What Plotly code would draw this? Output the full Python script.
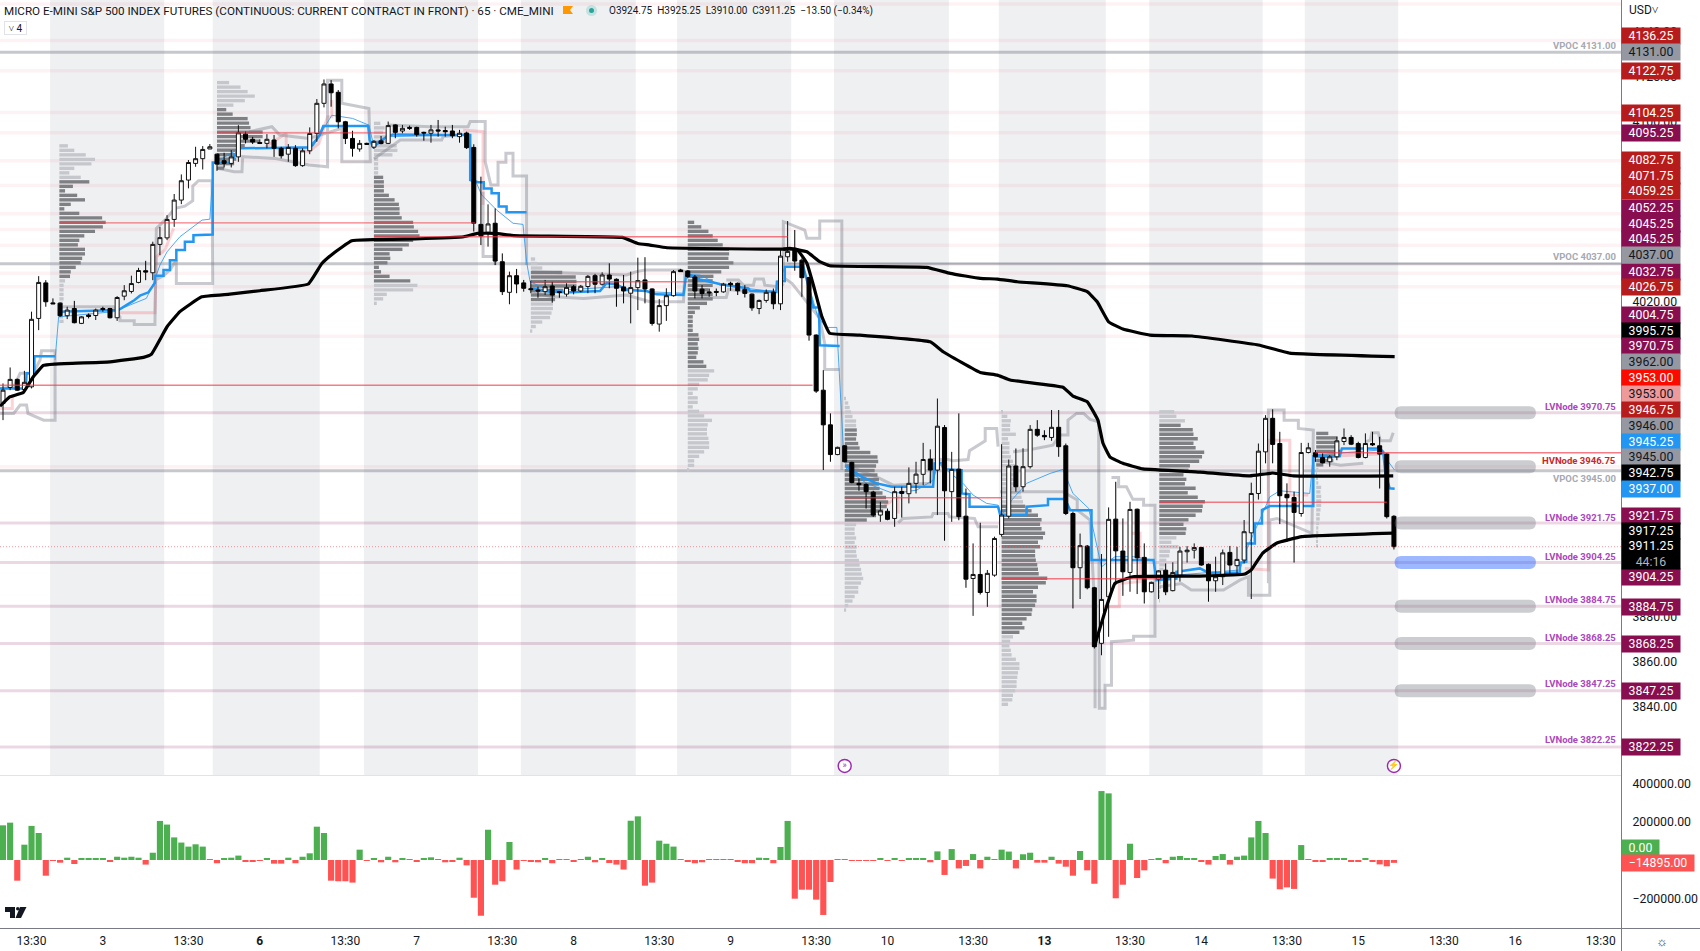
import plotly.graph_objects as go

# ---------- candles (bar index 0..195, prices) ----------
opens = [3974.9,3982.0,3985.6,3981.1,3982.3,4012.7,4028.5,4019.6,4019.5,4013.9,
4017.1,4010.5,4014.2,4014.0,4017.1,4017.1,4013.0,4022.6,4024.7,4028.7,
4033.9,4033.0,4045.6,4048.5,4056.7,4065.3,4074.2,4081.6,4083.7,4088.0,
4085.7,4082.8,4081.6,4084.5,4094.6,4092.3,4090.9,4090.5,4092.0,4088.3,
4085.7,4088.3,4080.6,4087.2,4094.9,4108.3,4116.9,4113.2,4100.1,4092.7,
4088.0,4090.5,4088.8,4091.6,4090.5,4098.7,4096.0,4097.6,4097.6,4095.4,
4095.0,4096.5,4096.2,4096.0,4093.5,4095.1,4088.7,4054.5,4051.0,4055.0,
4037.9,4024.3,4031.7,4028.5,4025.9,4025.3,4024.6,4027.1,4024.6,4023.5,
4026.8,4024.9,4026.9,4031.7,4027.9,4032.0,4030.1,4026.7,4023.9,4026.4,
4029.8,4025.8,4010.2,4018.4,4022.8,4034.2,4033.8,4031.1,4025.7,4024.5,
4024.7,4024.5,4028.3,4028.3,4025.6,4023.5,4017.1,4020.7,4024.4,4019.2,
4040.1,4043.1,4038.6,4030.9,4005.3,3980.8,3965.4,3952.2,3956.1,3948.7,
3939.4,3938.9,3935.5,3925.3,3927.0,3923.8,3935.8,3934.8,3939.4,3943.4,
3950.2,3945.3,3964.2,3935.7,3945.7,3924.8,3897.1,3898.9,3890.9,3898.6,
3916.7,3924.8,3947.1,3937.9,3946.8,3963.4,3960.7,3959.8,3964.3,3956.1,
3926.0,3901.9,3911.5,3893.0,3868.3,3889.0,3923.5,3909.3,3899.8,3927.9,
3906.5,3891.2,3896.8,3900.8,3891.7,3898.6,3909.0,3909.7,3910.9,3903.4,
3896.1,3897.9,3908.7,3902.8,3905.3,3917.4,3934.9,3953.4,3968.3,3957.1,
3934.5,3933.1,3926.0,3953.1,3953.0,3950.9,3949.0,3951.2,3958.0,3959.8,
3957.1,3950.9,3957.1,3956.1,3952.4,3924.75]
highs = [3983.8,3990.9,3986.0,3989.4,4015.7,4031.5,4029.7,4021.6,4019.8,4017.9,
4020.5,4013.7,4014.9,4017.1,4017.9,4017.4,4022.6,4027.5,4031.7,4035.2,
4038.3,4046.8,4053.4,4058.6,4068.0,4076.7,4083.1,4089.0,4089.3,4090.2,
4086.0,4086.3,4087.5,4098.6,4095.7,4093.4,4092.3,4094.6,4094.2,4089.0,
4090.2,4089.7,4088.3,4097.6,4110.2,4118.9,4118.6,4114.2,4100.5,4096.1,
4092.0,4090.8,4092.0,4093.8,4100.2,4099.0,4098.7,4098.4,4097.9,4095.7,
4098.7,4100.9,4097.9,4098.7,4096.5,4095.7,4090.1,4075.7,4063.4,4061.6,
4041.6,4033.5,4034.7,4029.8,4029.5,4026.8,4029.8,4029.0,4024.9,4028.3,
4027.6,4027.6,4032.0,4032.5,4033.2,4037.2,4030.5,4032.0,4033.5,4039.7,
4039.9,4026.1,4021.3,4026.1,4034.2,4034.7,4034.2,4032.0,4027.5,4026.0,
4026.0,4028.5,4029.0,4028.7,4027.5,4023.8,4021.1,4025.6,4026.0,4043.1,
4056.0,4052.0,4039.4,4031.2,4005.6,3989.7,3970.5,3955.7,3956.4,3949.0,
3941.6,3939.4,3936.1,3931.2,3928.2,3937.9,3937.9,3946.5,3949.0,3957.4,
3954.5,3977.1,3965.3,3953.4,3970.5,3937.1,3912.7,3921.9,3900.9,3915.7,
3956.8,3950.0,3954.9,3955.0,3965.3,3967.5,3963.0,3972.0,3972.0,3957.1,
3926.8,3917.1,3912.0,3893.4,3908.0,3928.7,3940.1,3923.8,3931.2,3928.2,
3912.7,3895.7,3900.8,3903.8,3904.3,3911.2,3911.5,3912.7,3911.2,3903.8,
3906.8,3910.0,3911.6,3911.2,3923.1,3939.7,3957.1,3969.7,3972.3,3962.3,
3939.4,3935.7,3957.4,3957.4,3954.2,3952.7,3952.0,3960.1,3963.8,3960.8,
3957.9,3961.6,3962.3,3960.1,3952.7,3925.25]
lows = [3967.5,3980.8,3980.5,3980.5,3981.6,4007.5,4017.9,4019.2,4013.4,4012.4,
4010.5,4010.2,4012.7,4012.0,4015.7,4012.7,4011.6,4020.8,4023.8,4028.3,
4029.7,4029.7,4040.8,4047.5,4053.4,4063.5,4070.5,4080.1,4078.9,4088.0,
4078.3,4079.8,4079.8,4082.3,4090.5,4090.2,4090.2,4088.3,4084.5,4083.8,
4082.3,4080.1,4080.1,4085.7,4091.2,4106.5,4106.8,4097.2,4090.2,4084.6,
4086.8,4089.8,4088.0,4090.1,4090.2,4092.8,4095.0,4096.5,4093.5,4091.7,
4090.8,4093.5,4093.5,4092.8,4090.8,4088.0,4051.3,4045.3,4044.6,4036.4,
4023.1,4019.0,4023.9,4024.6,4023.9,4021.9,4023.1,4019.7,4021.9,4022.4,
4023.4,4024.3,4023.9,4023.9,4027.3,4026.1,4017.9,4019.4,4010.5,4016.4,
4019.4,4009.5,4006.8,4011.6,4022.4,4033.5,4030.5,4021.6,4021.6,4022.3,
4022.6,4024.1,4025.0,4023.1,4022.0,4016.1,4014.6,4019.7,4016.8,4016.4,
4037.9,4033.9,4022.3,4002.8,3979.6,3945.3,3949.0,3951.9,3948.7,3939.4,
3936.1,3928.2,3924.5,3922.3,3923.0,3920.1,3924.2,3930.5,3934.9,3938.6,
3939.4,3925.3,3913.9,3922.3,3923.0,3893.0,3880.5,3890.0,3884.5,3897.9,
3915.7,3923.8,3935.7,3935.7,3946.0,3960.1,3958.6,3958.3,3951.2,3925.3,
3883.8,3888.0,3892.3,3866.0,3863.0,3871.2,3894.2,3889.4,3891.2,3890.2,
3886.0,3890.9,3888.0,3889.7,3891.4,3895.7,3904.2,3906.0,3902.8,3886.8,
3891.2,3894.2,3898.6,3899.4,3903.8,3888.0,3932.2,3948.3,3948.3,3921.3,
3913.4,3904.2,3924.6,3952.7,3949.0,3948.3,3946.8,3949.7,3956.4,3956.4,
3950.5,3950.5,3956.0,3937.1,3923.8,3910.0]
closes = [3980.8,3985.6,3980.8,3984.3,4012.3,4028.7,4020.1,4019.2,4013.9,4016.4,
4010.8,4013.4,4013.6,4016.4,4016.7,4013.0,4022.0,4025.0,4028.2,4034.0,
4033.3,4045.6,4048.6,4056.7,4065.3,4073.9,4082.0,4083.7,4087.8,4089.0,
4081.3,4081.6,4084.5,4095.2,4092.3,4091.1,4090.5,4092.3,4088.3,4085.0,
4088.7,4080.6,4087.2,4094.9,4108.3,4116.9,4113.0,4100.1,4092.7,4088.3,
4090.5,4090.1,4091.4,4090.4,4098.4,4095.4,4097.2,4097.2,4094.5,4095.1,
4096.5,4096.0,4095.7,4093.9,4095.0,4088.6,4055.0,4049.3,4054.7,4038.2,
4024.6,4031.7,4028.0,4026.1,4025.5,4024.9,4026.8,4023.1,4024.2,4026.5,
4024.9,4027.0,4031.4,4027.9,4032.0,4030.2,4026.1,4024.9,4026.4,4029.5,
4025.8,4010.5,4018.4,4022.8,4033.5,4033.5,4031.3,4024.9,4023.8,4024.1,
4024.3,4027.9,4027.7,4025.0,4023.8,4017.4,4020.7,4024.3,4019.2,4040.4,
4042.5,4038.2,4030.8,4005.3,3980.4,3965.4,3952.2,3955.4,3949.0,3939.8,
3938.8,3935.7,3925.3,3927.2,3923.4,3935.7,3934.9,3939.4,3943.5,3950.0,
3945.3,3964.8,3936.1,3945.6,3924.6,3896.8,3898.9,3890.9,3899.4,3914.9,
3925.3,3947.1,3937.9,3946.8,3963.4,3960.8,3960.1,3964.3,3955.7,3926.0,
3901.9,3911.7,3893.0,3866.8,3887.8,3923.4,3909.4,3900.1,3927.8,3906.3,
3891.2,3895.4,3900.5,3891.2,3899.8,3909.3,3909.7,3910.9,3903.1,3896.1,
3897.9,3908.5,3903.1,3905.6,3917.9,3934.9,3953.7,3968.3,3956.7,3933.9,
3933.0,3926.5,3953.1,3955.2,3951.2,3948.5,3951.2,3958.3,3959.8,3956.8,
3950.9,3957.1,3956.5,3952.4,3924.6,3911.25]
assert len(opens) == len(highs) == len(lows) == len(closes) == 196, (len(opens), len(highs), len(lows), len(closes))

# ---------- delta histogram (thousands) ----------
delta_k = [181,195,-108,80,178,141,-82,-3,-14,12,
-21,7,7,7,7,-9,17,12,17,12,
-24,38,204,185,118,91,70,82,70,3,
-17,10,12,23,-7,-7,-5,9,-19,-19,
12,-17,17,35,174,141,-108,-111,-111,-118,
54,-3,7,-12,17,-12,7,3,-7,7,
14,3,-12,-7,12,-28,-197,-291,158,-129,
-111,94,-50,-3,-7,-12,9,-17,5,5,
-7,5,17,-12,9,-16,-24,-50,205,228,
-134,-118,101,85,70,2,-7,-17,-12,5,
5,5,5,-7,-17,-17,12,9,-17,68,
204,-202,-155,-155,-207,-287,-115,3,3,-3,
-3,-5,-3,7,-3,9,-5,9,7,9,
-12,45,-78,57,-44,-31,31,-44,17,3,
54,44,-44,30,38,-14,-14,17,-19,-35,
-82,47,-54,-124,360,348,-200,-129,85,-94,
-54,3,10,-17,17,21,10,7,-10,-24,
21,31,-24,17,23,118,204,141,-97,-153,
-143,-151,78,3,-7,-7,9,9,9,-7,
-7,9,-10,-23,-33,-14.895]
assert len(delta_k) == 196, len(delta_k)

# ---------- black anchored lines ----------
line_a_x = [-0.42,1,2.85,4.25,5.65,7.3,15,19.7,20.8,23,24.8,27.85,31.8,36,42.8,44.7,46.3,48.9,57.8,64.6,66.5,69,71.6,86.8,89,90.7,93.1,109.4,110.3,112.7,114.5,115.9,129.5,132.8,137,139.4,142.2,149.2,152,153.4,155,157,160.8,166.7,176,180.4,195.1]
line_a_y = [3973.7,3977.9,3979.8,3986.8,3991.8,3992.4,3993.4,3995.4,3996.8,4009,4015.7,4022.3,4023.5,4025,4028,4037.1,4041.6,4047.2,4048,4049,4050.5,4050.5,4049.5,4048.7,4046,4045.3,4044.1,4043.5,4043.8,4042.3,4037.9,4036.1,4035.4,4032.7,4030.5,4030.2,4029,4027.2,4024.6,4020.1,4011.2,4008,4005.3,4004.9,4000.9,3997.3,3995.75]
line_b_x = [109.4,111.3,112.7,113.8,114.8,115.9,120.1,130,131.8,137,139.4,141.2,148.6,150,152,153.5,154.2,155.2,157,159.8,167.8,174.8,178,180.9,194.9]
line_b_y = [4043.5,4043.4,4037.2,4025.3,4013.5,4006.1,4005.3,4002.3,3997.9,3988.7,3987.5,3985.3,3982.1,3978.2,3975.7,3967.5,3957.3,3951.1,3948.3,3945.8,3944.4,3942.7,3944,3942.7,3942.75]
line_c_x = [153,154.7,155.9,158.4,167.8,174.1,175,176.6,178.6,182.1,194.9]
line_c_y = [3866.8,3884.6,3895,3897.9,3898.2,3899.1,3900.9,3908.4,3912.9,3915.7,3917.25]

# ---------- blue stepped value line ----------
blue_x = [-0.42,3.2,3.3,4.4,4.4,7.3,None,
7.8,16.2,17.3,18.4,19.2,20.4,21.3,21.3,22.5,22.5,23.4,23.4,24.3,24.3,25.5,25.5,26.7,26.7,29.4,29.4,32,32.5,33.2,42.8,43.4,44.4,44.9,51.2,51.4,51.9,53.8,54.7,61.5,64.8,65.5,65.5,66.6,67.4,67.4,68.5,68.5,69.5,69.5,70.6,70.6,73.4,None,
73.9,76.7,79.5,83.7,84.6,86,87.4,90.2,91.6,95.4,95.8,97.7,100.5,104.5,104.7,108.4,108.5,109.6,109.6,112.2,112.7,113.6,114.4,114.5,117.3,None,
118.3,120.4,122.5,124.6,130.4,130.6,131.6,131.8,134.4,134.4,135.5,135.5,139.5,139.8,143.5,143.5,146.5,146.5,148.9,149.6,152.6,152.6,161.3,161.7,164.5,164.5,167.8,169,173.4,173.4,174.3,174.3,175.5,175.5,176.5,176.5,177.6,183.7,183.7,187.4,187.7,193,193.5,193.8,194.4,195.1]
blue_y = [3981.6,3981.6,3988.3,3988.3,3995.9,3995.9,None,
4015.7,4016.4,4018.6,4020.8,4022.8,4024.3,4028.5,4031.7,4031.7,4034.2,4034.2,4038.6,4038.6,4043.1,4043.1,4046.8,4046.8,4049.7,4050,4082,4082,4085.3,4088.3,4088.7,4089.7,4094.2,4098.2,4098.2,4092,4089,4093.5,4094.5,4094.2,4094.2,4094.2,4074.2,4073.2,4073.2,4070.5,4070.5,4068.3,4068.3,4062.4,4062.4,4059.9,4059.9,None,
4026.1,4024.6,4024.3,4024.9,4028.3,4027.9,4025.3,4024.9,4023.4,4023.1,4032.7,4030,4028,4026,4025,4024.5,4029,4029.3,4035.7,4035.7,4029.7,4017.6,4017.6,4000.8,4000.5,None,
3946.8,3942.3,3939.4,3937.9,3937.9,3948.3,3948.5,3945.7,3945.3,3934.9,3934.6,3929,3929,3925.3,3925.3,3929,3929.7,3932.4,3932.4,3927.5,3927.5,3905.3,3905.3,3896.4,3897.1,3900.1,3901.6,3899.7,3899.8,3904.1,3904.6,3912.7,3912.7,3921.6,3921.6,3927.5,3929.3,3929.3,3951.5,3951.5,3954.9,3954.9,3953.4,3943.8,3937.2,3937.0]
# thin blue VWAP
thin_x = [7.3,7.8,15.5,18.3,20.1,21.1,22,23,24.8,27.9,29,29.5,33.2,42.8,44.4,46.1,49,51.3,51.9,54,65,65.5,66.2,67.1,69.2,71.5,72.9,73.4,73.9,76.7,86,90.2,95.4,95.8,97.7,100.5,104.5,108.4,109.6,112.2,114.3,115.5,116.9,117.3,117.8,118.3,121.1,124.8,128.1,130.4,131.1,134.6,136,137.9,139.5,140,141.4,143.5,146.8,148.6,150,152.2,154,155.9,158.5,161.3,161.7,164.5,173.4,174.3,176.7,177.6,179,183.2,183.7,193,195.1]
thin_y = [3994.2,4013.4,4015.7,4019.4,4021.6,4028.3,4036.4,4042.3,4049,4056.4,4056.8,4081.6,4088.3,4089,4094.2,4103,4101.6,4098.6,4090.5,4093.5,4094.2,4091.3,4074.2,4067.6,4060.9,4055,4054.5,4037.9,4029,4024.9,4026.8,4024.6,4023.9,4032.3,4032,4027.5,4026,4024.5,4035.7,4035.7,4012.7,4008.7,4008.7,3982.3,3955.7,3945.3,3939.4,3934.9,3936.4,3940.8,3948.3,3939.4,3934.2,3930.5,3929.7,3925.3,3931.9,3939.4,3943.8,3945.6,3934.9,3928.3,3902.3,3906.8,3906.8,3905.3,3896.4,3898.6,3900.9,3909.7,3927.5,3933.4,3936.1,3934.9,3952,3954.2,3945.25]

# ---------- grey stepped band lines ----------
grey_x = [-0.4,1.5,2.4,3.3,3.5,5.7,7.3,7.3,5.4,5.2,4.25,2.4,1.5,-0.4,None,
7.9,7.9,15.5,16.4,16.4,18.4,18.4,21.3,21.5,22.7,24.1,25.5,26.6,26.6,27.4,29.3,29.4,24.3,24.3,23.4,22.5,21.3,None,
30.1,32.4,33.5,33.6,38.2,42.9,45.5,45.5,47.5,47.5,51.3,51.5,47.5,47.5,42.9,38.8,37.7,34.5,None,
52,54.7,55.7,61.5,61.7,64.8,None,
54,59.9,65.2,65.5,67.6,67.6,68.4,69.4,69.4,70.5,70.5,71.5,71.5,73.4,73.4,None,
67.3,67.3,69,69,None,
74.1,87.4,88.8,90,91.4,94.9,95.6,95.4,90.7,None,
74.1,76.7,81.4,87.4,90.7,None,
97.2,101.4,101.7,104.7,108.7,109.4,None,
101.4,103.1,103.8,105.2,105.4,106.6,106.8,108.7,109.4,109.4,112.4,112.7,114.5,114.5,117.6,117.6,None,
109.6,110.6,114.5,115.2,115.2,117.3,None,
125.5,126.2,130.2,130.4,132.5,132.7,136.2,136.7,139.5,None,
118.3,122.9,124.8,130,130.4,132.5,133.2,135.3,135.5,137.7,137.7,139.3,139.5,None,
141.6,143.7,147.2,148.2,149.3,149.3,150.5,151.5,152.4,153.6,153.7,154.5,154.5,155.4,155.4,158.5,158.5,161.5,161.5,159.9,159.9,158.4,157.5,156.4,156.4,155.4,None,
139.8,148.6,150.6,150.6,152.4,153.1,153.1,None,
162.2,165.2,166.6,171.1,173.4,174.6,174.6,177.6,177.6,178.6,183.5,183.7,181.6,181.6,179.6,179.6,177.4,177.4,None,
183.7,187.5,190.7,None,
191,191.7,191.9,192.8,193.1,194.5,194.9]
grey_y = [3970.5,3970.5,3974.2,3974.2,3970.5,3967.5,3967.5,3998.3,3998.3,3994.2,3988.3,3988.3,3982.3,3981.6,None,
4013.7,4017.9,4017.9,4013.4,4011.7,4011.7,4010,4010,4052.7,4056.4,4061.6,4062.6,4065,4071.5,4073.9,4073.9,4028.2,4028.2,4038.6,4034.2,4031.7,4029.7,None,
4079.4,4077.9,4077.9,4084.6,4083.8,4080.9,4080.1,4118.6,4118.6,4108.3,4106,4082.3,4082.3,4097.2,4092.7,4094.2,4097.9,4095.7,None,
4083.6,4089.8,4092,4092,4093.5,4094.5,None,
4098.7,4097.9,4097.9,4100.2,4100.2,4082.4,4072,4072,4082.1,4082.1,4086.1,4086.1,4076,4076,4036.4,None,
4069,4040.2,4040.2,4036.4,None,
4033.5,4032,4033.5,4034.2,4034.2,4034.2,4033.5,4020.1,4020.1,None,
4024.6,4022.4,4021.6,4023.1,4020.1,None,
4022,4022,4025.6,4024.6,4024.6,4028.3,None,
4029.8,4029.8,4027.5,4027.5,4030.2,4030.2,4027.5,4026.8,4031.2,4055.7,4052,4048.3,4048.3,4056,4056,3945.3,None,
4030.5,4028.3,4012.7,4001.6,3990,3990,None,
3921.9,3923.8,3924.5,3926,3926,3924.5,3923.8,3920.1,3920.1,None,
3947.5,3941.6,3938.6,3939.4,3950,3950,3949.4,3950,3953.9,3958.3,3963.8,3963.8,3955.7,None,
3953.4,3954.2,3956.4,3960.9,3960.9,3967.5,3970.5,3970.5,3967.8,3966.8,3839.4,3839.4,3849.7,3849.7,3869,3869.7,3871.5,3871.5,3929.7,3929.7,3932.3,3932.3,3937.9,3937.9,3942,3942,None,
3935.7,3935.7,3932,3927.5,3923.1,3881.6,3839.4,None,
3893.4,3894.9,3892,3892,3896.4,3897.9,3889.7,3889.7,3923.1,3923.8,3917.2,3963.1,3963.8,3967.5,3967.5,3972,3972,3895,None,
3949.7,3947.5,3948.3,None,
3957.9,3958.6,3961.9,3961.9,3958.3,3958.3,3961.9]

# ---------- pink stepped band lines ----------
pink_x = [-0.4,1.3,1.3,None,16,21.3,21.5,22.7,23.9,None,36.8,39.7,39.7,42.9,44.3,45.5,46.1,46.1,None,
64.5,67.3,67.3,None,123.6,125.5,125.5,None,153.8,156.5,156.5,159.4,159.4,158.2,None,
174.1,177.4,177.4,180.4,180.4,183,None,184.4,194.4]
pink_y = [3972.7,3972.7,3977.9,None,4015.2,4015.2,4040.1,4043.1,4052.7,None,4089,4094.9,4089,4086.8,4090.5,4102.3,4102.3,4109.8,None,
4096.5,4095.7,4063.1,None,3929.7,3933.1,3926,None,3884.6,3884.6,3894.9,3895.7,3917.2,3917.2,None,
3901.6,3900.9,3958.6,3958.6,3934.2,3934.2,None,3951.2,3952.7]

# ---------- session volume profiles: start bar, top price, row lengths in bars ----------
vp_s1 = [1.2,2.1,3.7,5,4.5,2.1,1.4,3,4.2,1.9,.8,2.5,3.6,1.6,.7,2.8,6,6.5,6.1,5,3.5,2.8,2.6,3.6,3.6,3.2,3,2.3,1.6,1.5,.8,.6,.6,.6,.6,.5,.5,.5,.5,.6]
vp_s2 = [1.7,3.3,4.3,5.3,3.9,2.3,1.3,2.2,4.3,4.5,4.7,6.4,6.4,5.9,3.9,3,2.7,2.7,2.4,1]
vp_s3 = [.9,1.5,1.3,1.8,2,3.2,3.3,2.6,.6,.6,.6,.6,1.3,1.4,1.4,1.4,2.1,2.9,3.5,3.6,3.6,3.9,5.5,5.6,6.2,6.4,5.5,4.9,4,2.2,2.3,1.9,.7,1,2.2,5.1,6.1,5.5,1.8,1.3,.4]
vp_s4 = [.6,.9,1.6,4.4,6.3,6.4,6.4,4.5,3.4,3.4,3.1,3.1,2.9,2.7,1.6,.7,.2]
vp_s5 = [.9,1.9,2.9,3.5,4.2,4.9,5.8,5.8,5.7,6.4,5.8,4.7,3.6,3.5,3.5,2.9,3.5,3.5,2.7,1.7,1,.7,.7,.7,.7,1.5,1.6,1.4,1.5,1.4,1.2,2.2,2.6,3.7,3,2.8,1.6,1.4,.7,1.4,1.4,.7,1.6,2.3,3.4,2.8,2.7,2.7,2.9,3,3,2.3,1.6,.9,.9,.2]
vp_s6 = [.1,.5,.7,.9,1.1,1.6,1.6,1.7,1.7,1.6,1.9,2.1,3.6,4.6,4.7,4.4,4.2,4.6,4.8,4.8,4.9,5.3,5.8,6.1,5.9,5.4,4.4,3.1,1.6,1.4,1.4,1.6,1.4,1.7,1.6,1.7,2,2.1,2.3,2.4,2.6,2.3,1.9,1.9,1.4,1.1,.5,.2]
vp_s7 = [.1,.8,1.3,1.2,1.2,2,.9,1.1,1.1,1.1,1.3,1.6,1.9,2,1.9,2,2.2,2.6,2.7,2.8,3,3.3,4.2,5.1,5.6,5.4,5.6,6.1,5.8,5.1,5.4,4.7,4.7,4.8,5,5.1,5.2,6.4,6.2,5.1,4.4,4.9,4.9,4.7,4.3,4.2,3.5,2.9,3.2,2.5,1.6,1.2,1.1,1.3,1.4,2,2.5,2.5,2.3,2.2,2.1,2.1,1.9,1.6,1.5,.9]
vp_s8 = [2.1,2.4,3.6,3,4.7,4.8,5.4,4.8,5.1,6.3,6,5.6,4.3,4.1,3.4,3.8,3.6,5.1,4,5.4,6.4,6.1,6,5.1,4.1,3.4,3.8,3.7,2.4,1.7,2.7,1.5,1.4,1,.8,.6,.3,.2,.2,.2,.1,.1,.1]
vp_s9 = [1.7,3,3.1,3.1,3.4,2.9,2.4,1,.3,.1,.2,.3,.7,.6,.7,.7,.7,.6,.5,.5,.4,.3,.3,.2,.2,.2]
vp_start = [7.9,30,52,74,96,118,140,162.1,184.1]
vp_top = [4089.4,4117.5,4099.4,4039.1,4055.4,3977.1,3971.2,3971.2,3961.6]
vp_dark = [(8,29),(6,19),(12,35),(3,9),(0,32),(7,27),(21,49),(3,27),(0,7)]
vp_rows = [vp_s1,vp_s2,vp_s3,vp_s4,vp_s5,vp_s6,vp_s7,vp_s8,vp_s9]

# ---------- levels ----------
faint_levels = [4152.5,4136.25,4122.75,4104.25,4095.25,4082.75,4071.75,4059.25,4052.25,4045.25,4032.75,4026.75,4004.75,3946.75]
mauve_levels = [3970.75,3921.75,3904.25,3884.75,3868.25,3847.25,3822.25]
vpoc_levels = [4131.0,4037.0,3945.0]
red_seg_price = [4095.2,4055.2,4049.0,3983.0,4029.0,3933.0,3897.0,3931.0]
red_seg_from = [30,7.9,52,-0.5,74,118,140,162.1]
red_seg_to = [53.7,66.2,110,113.5,96,140,162.5,194]
pill_levels = [3970.75,3946.75,3921.75,3904.25,3884.75,3868.25,3847.25]
session_from = [6.6,29.4,50.6,72.6,94.5,116.5,139.6,160.7,182.5]
session_to = [22.6,44.4,66.6,88.7,110.5,132.6,154.6,176.6,195.6]

tick_bars = [4,14,26,36,48,58,70,80,92,102,114,124,136,146,158,168,180,190,202,212,224]
tick_text = ["13:30","3","13:30","<b>6</b>","13:30","7","13:30","8","13:30","9","13:30","10","13:30","<b>13</b>","13:30","14","13:30","15","13:30","16","13:30"]
price_ticks = [3840,3860,3880,4020,4100,4120,4140]
delta_ticks = [400000,200000,-200000]
delta_tick_text = ["400000.00","200000.00","\u2212200000.00"]

price_text = ["4136.25","4131.00","4122.75","4104.25","4095.25","4082.75","4071.75","4059.25","4052.25","4045.25","4045.25","4037.00","4032.75","4026.75","4004.75","3995.75","3970.75","3962.00","3953.00","3953.00","3946.75","3946.00","3945.25","3945.00","3942.75","3937.00","3921.75","3917.25","3904.25","3884.75","3868.25","3847.25","3822.25"]
price_kind = ["r","g","r","r","p","r","r","r","p","p","p","g","p","r","p","k","p","g","R","P","r","g","b","g","k","b","p","k","p","p","p","p","p"]
price_px = [36,51.7,70.7,112.7,133,160.3,176,191.3,207.7,223.7,239,255.3,271.7,286.7,314.7,331,346,362,378.3,393.7,409.7,426,441.7,457.3,473.3,489,515.7,531.3,576.7,607.3,644.3,691,747]
kind_bg = {"r":"#b71c1c","g":"#9598a1","p":"#880e4f","k":"#000000","R":"#fb0a00","P":"#ef9a9a","b":"#2196f3"}
kind_fg = {"r":"#ffffff","g":"#131722","p":"#ffffff","k":"#ffffff","R":"#ffffff","P":"#131722","b":"#ffffff"}

node_text = ["VPOC 4131.00","VPOC 4037.00","LVNode 3970.75","HVNode 3946.75","VPOC 3945.00","LVNode 3921.75","LVNode 3904.25","LVNode 3884.75","LVNode 3868.25","LVNode 3847.25","LVNode 3822.25"]
node_price = [4131,4037,3970.75,3946.75,3945,3921.75,3904.25,3884.75,3868.25,3847.25,3822.25]
node_shift = [7,7,6,6,-8,6,6,7,6,7,7]
node_color = ["#a6a9b2","#a6a9b2","#ab47bc","#c62828","#a6a9b2","#ab47bc","#ab47bc","#ab47bc","#ab47bc","#ab47bc","#ab47bc"]

# ---------- geometry ----------
W, H = 1700, 951
AX = 1621
FONT = "Roboto"
BAR_PX, BAR0 = 7.133, 3.0
xr = [(0-BAR0)/BAR_PX, (AX-BAR0)/BAR_PX]
yr_main = [3840-(775-707)/2.25, 3840+707/2.25]
yr_delta = [(860-928)*5222, (860-776)*5222]
bars = list(range(len(opens)))

fig = go.Figure()

# volume profile
vx, vy, vb, vc = [], [], [], []
for rows, st, top, dk in zip(vp_rows, vp_start, vp_top, vp_dark):
    for k, ln in enumerate(rows):
        vx.append(ln); vy.append(top-2*k); vb.append(st)
        vc.append("#7e8083" if dk[0] <= k <= dk[1] else "#c6c7cc")
fig.add_trace(go.Bar(x=vx, y=vy, base=vb, width=1.5, orientation="h", marker=dict(color=vc, line_width=0),
                     hoverinfo="skip", showlegend=False, xaxis="x", yaxis="y"))
fig.add_trace(go.Scatter(x=pink_x, y=pink_y, mode="lines", line=dict(color="rgba(242,54,69,0.22)", width=3),
                         hoverinfo="skip", showlegend=False, xaxis="x", yaxis="y"))
fig.add_trace(go.Scatter(x=grey_x, y=grey_y, mode="lines", line=dict(color="rgba(120,123,134,0.40)", width=3),
                         hoverinfo="skip", showlegend=False, xaxis="x", yaxis="y"))
fig.add_trace(go.Scatter(x=blue_x, y=blue_y, mode="lines", line=dict(color="#2196f3", width=2.5),
                         hoverinfo="skip", showlegend=False, xaxis="x", yaxis="y"))
fig.add_trace(go.Scatter(x=thin_x, y=thin_y, mode="lines", line=dict(color="#2196f3", width=0.8),
                         hoverinfo="skip", showlegend=False, xaxis="x", yaxis="y"))

# candles and black lines over everything
fig.add_trace(go.Candlestick(x=bars, open=opens, high=highs, low=lows, close=closes, whiskerwidth=0,
                             increasing=dict(line=dict(color="#111111", width=1), fillcolor="#ffffff"),
                             decreasing=dict(line=dict(color="#000000", width=1), fillcolor="#000000"),
                             hoverinfo="skip", showlegend=False, xaxis="x3", yaxis="y3"))
for lx, ly in [(line_a_x, line_a_y), (line_b_x, line_b_y), (line_c_x, line_c_y)]:
    fig.add_trace(go.Scatter(x=lx, y=ly, mode="lines", line=dict(color="#000000", width=3.2, shape="spline", smoothing=0.3),
                             hoverinfo="skip", showlegend=False, xaxis="x3", yaxis="y3"))
# session event markers
fig.add_trace(go.Scatter(x=[118,195], y=[3813.8,3813.8], mode="markers+text", text=["\u00bb","\u26a1"],
                         textposition="middle center", textfont=dict(size=9,color="#9c27b0"),
                         marker=dict(size=13,color="#ffffff",line=dict(color="#9c27b0",width=1.4)),
                         hoverinfo="skip", showlegend=False, xaxis="x3", yaxis="y3"))

# delta histogram
delta = [v*1000 for v in delta_k]
fig.add_trace(go.Bar(x=bars, y=delta, width=0.86, marker=dict(color=["#4caf50" if v >= 0 else "#ff5252" for v in delta], line_width=0),
                     hoverinfo="skip", showlegend=False, xaxis="x2", yaxis="y2"))

# ---------- shapes ----------
shapes = []
for a, b in zip(session_from, session_to):
    shapes.append(dict(type="rect", xref="x", yref="y", x0=a, x1=b, y0=yr_main[0], y1=yr_main[1],
                       fillcolor="#eff0f2", line_width=0, layer="below"))
for p in faint_levels:
    shapes.append(dict(type="line", xref="x", yref="y", x0=xr[0], x1=xr[1], y0=p, y1=p,
                       line=dict(color="rgba(242,54,69,0.06)", width=3.5), layer="below"))
for p in mauve_levels:
    shapes.append(dict(type="line", xref="x", yref="y", x0=xr[0], x1=xr[1], y0=p, y1=p,
                       line=dict(color="rgba(136,14,79,0.16)", width=3), layer="below"))
for p in vpoc_levels:
    shapes.append(dict(type="line", xref="x", yref="y", x0=xr[0], x1=xr[1], y0=p, y1=p,
                       line=dict(color="rgba(120,123,134,0.42)", width=3), layer="below"))
for p, a, b in zip(red_seg_price, red_seg_from, red_seg_to):
    shapes.append(dict(type="line", xref="x", yref="y", x0=a, x1=b, y0=p, y1=p,
                       line=dict(color="rgba(242,54,69,0.65)", width=1.3), layer="above"))
shapes.append(dict(type="line", xref="x", yref="y", x0=184, x1=xr[1], y0=3953, y1=3953,
                   line=dict(color="rgba(242,54,69,0.65)", width=1.3), layer="above"))
shapes.append(dict(type="line", xref="x", yref="y", x0=110, x1=xr[1], y0=4037, y1=4037,
                   line=dict(color="rgba(136,14,79,0.25)", width=1), layer="above"))
shapes.append(dict(type="line", xref="x", yref="y", x0=xr[0], x1=xr[1], y0=closes[-1], y1=closes[-1],
                   line=dict(color="rgba(242,54,69,0.5)", width=1, dash="1px,2px"), layer="above"))
# rounded node pills
a_, b_, r_, h_ = 195.1, 214.9, 0.9, 2.9
for p in pill_levels:
    col = "rgba(41,98,255,0.45)" if p == 3904.25 else "rgba(120,123,134,0.38)"
    path = (f"M {a_+r_},{p+h_} L {b_-r_},{p+h_} Q {b_},{p+h_} {b_},{p} Q {b_},{p-h_} {b_-r_},{p-h_} "
            f"L {a_+r_},{p-h_} Q {a_},{p-h_} {a_},{p} Q {a_},{p+h_} {a_+r_},{p+h_} Z")
    shapes.append(dict(type="path", xref="x", yref="y", path=path, fillcolor=col, line_width=0, layer="above"))

def px(x): return x/W
def py(y): return 1-y/H
# axis frame
shapes.append(dict(type="line", xref="paper", yref="paper", x0=px(AX+.5), x1=px(AX+.5), y0=0, y1=1, line=dict(color="#787b86", width=1)))
shapes.append(dict(type="line", xref="paper", yref="paper", x0=0, x1=1, y0=py(928.5), y1=py(928.5), line=dict(color="#787b86", width=1)))
shapes.append(dict(type="line", xref="paper", yref="paper", x0=0, x1=px(AX), y0=py(775.5), y1=py(775.5), line=dict(color="#e0e3eb", width=1)))
# header flag, status dot
shapes.append(dict(type="path", xref="paper", yref="paper", fillcolor="#ff9800", line_width=0,
                   path=f"M {px(563)},{py(6)} L {px(573)},{py(6)} L {px(570)},{py(10)} L {px(573)},{py(14)} L {px(563)},{py(14)} Z"))
shapes.append(dict(type="circle", xref="paper", yref="paper", x0=px(586), x1=px(597), y0=py(16), y1=py(5), fillcolor="rgba(38,166,154,0.2)", line_width=0))
shapes.append(dict(type="circle", xref="paper", yref="paper", x0=px(589), x1=px(594), y0=py(13), y1=py(8), fillcolor="#26a69a", line_width=0))
# logo
shapes.append(dict(type="path", xref="paper", yref="paper", fillcolor="#131722", line_width=0,
                   path=f"M {px(5)},{py(907)} L {px(15)},{py(907)} L {px(15)},{py(918)} L {px(10)},{py(918)} L {px(10)},{py(912)} L {px(5)},{py(912)} Z"))
shapes.append(dict(type="path", xref="paper", yref="paper", fillcolor="#131722", line_width=0,
                   path=f"M {px(20)},{py(907)} L {px(26.5)},{py(907)} L {px(21)},{py(918)} L {px(15.5)},{py(918)} Z"))
shapes.append(dict(type="circle", xref="paper", yref="paper", x0=px(16), x1=px(19.5), y0=py(910.5), y1=py(907), fillcolor="#131722", line_width=0))

# ---------- annotations ----------
ann = []
def label(txt, y, bg, fg, x0=AX, w=58, h=15.5):
    ann.append(dict(xref="paper", yref="paper", x=px(x0), y=py(y), xanchor="left", yanchor="middle", text=txt, showarrow=False,
                    width=w, height=h, bgcolor=bg, align="center", borderpad=0, font=dict(family=FONT, size=12.3, color=fg)))
for t, k, y in zip(price_text, price_kind, price_px):
    label(t, y, kind_bg[k], kind_fg[k])
label('3911.25<br><span style="color:#b2b5be">44:16</span>', 553.8, "#000000", "#ffffff", h=30)
label("0.00", 847.7, "#4caf50", "#ffffff", w=37)
label("\u221214895.00", 863, "#ff5252", "#ffffff", w=72)

for t, p, s, c in zip(node_text, node_price, node_shift, node_color):
    ann.append(dict(xref="paper", yref="y", x=px(1618), y=p, xanchor="right", yanchor="middle", yshift=s, text=f"<b>{t}</b>",
                    showarrow=False, font=dict(family=FONT, size=9.5, color=c)))

def free(txt, x, y, size=12, color="#131722", anchor="left", **kw):
    ann.append(dict(xref="paper", yref="paper", x=px(x), y=py(y), xanchor=anchor, yanchor="middle", text=txt, showarrow=False,
                    font=dict(family=FONT, size=size, color=color), **kw))
free("MICRO E-MINI S&P 500 INDEX FUTURES (CONTINUOUS: CURRENT CONTRACT IN FRONT) \u00b7 65 \u00b7 CME_MINI", 2, 11, size=11.65)
free("O3924.75  H3925.25  L3910.00  C3911.25  \u221213.50 (\u22120.34%)", 607, 11, size=10)
free("USD\u02c5", 1627, 10, size=12)
free("\u263c", 1662, 941, size=13, color="#434651", anchor="center")
ann.append(dict(xref="paper", yref="paper", x=px(4), y=py(27.5), xanchor="left", yanchor="middle", text="\u02c5 4", showarrow=False,
                width=21, height=12, bordercolor="#e0e3eb", borderwidth=1, borderpad=0, bgcolor="#ffffff", font=dict(family=FONT, size=10, color="#131722")))

axis_off = dict(visible=False, showgrid=False, zeroline=False)
fig.update_layout(
    width=W, height=H, margin=dict(l=0, r=0, t=0, b=0), paper_bgcolor="#ffffff", plot_bgcolor="rgba(0,0,0,0)",
    showlegend=False, barmode="overlay", boxgap=0.2, boxgroupgap=0.3, shapes=shapes, annotations=ann,
    font=dict(family=FONT, size=12, color="#131722"),
    xaxis=dict(domain=[0, AX/W], range=xr, anchor="y", rangeslider=dict(visible=False), **axis_off),
    xaxis3=dict(domain=[0, AX/W], range=xr, overlaying="x", anchor="y3", rangeslider=dict(visible=False), **axis_off),
    xaxis2=dict(domain=[0, AX/W], range=xr, anchor="y2", showgrid=False, zeroline=False, showline=False, tickmode="array",
                tickvals=tick_bars, ticktext=tick_text, ticks="outside", ticklen=2, tickcolor="rgba(0,0,0,0)",
                tickfont=dict(family=FONT, size=12, color="#131722"), rangeslider=dict(visible=False)),
    yaxis=dict(domain=[1-775/H, 1], range=yr_main, anchor="x", side="right", showgrid=False, zeroline=False, tickmode="array",
               tickvals=price_ticks, tickformat=".2f", ticks="outside", ticklen=8, tickcolor="rgba(0,0,0,0)",
               tickfont=dict(family=FONT, size=12.3, color="#131722")),
    yaxis3=dict(range=yr_main, overlaying="y", anchor="x3", side="right", **axis_off),
    yaxis2=dict(domain=[1-928/H, 1-776/H], range=yr_delta, anchor="x2", side="right", showgrid=False, zeroline=False, tickmode="array",
                tickvals=delta_ticks, ticktext=delta_tick_text, ticks="outside", ticklen=8, tickcolor="rgba(0,0,0,0)",
                tickfont=dict(family=FONT, size=12.3, color="#131722")),
)
fig.write_html("out.html", config=dict(displayModeBar=False),
               post_script="document.body.style.margin='0';document.body.style.overflow='hidden';")
